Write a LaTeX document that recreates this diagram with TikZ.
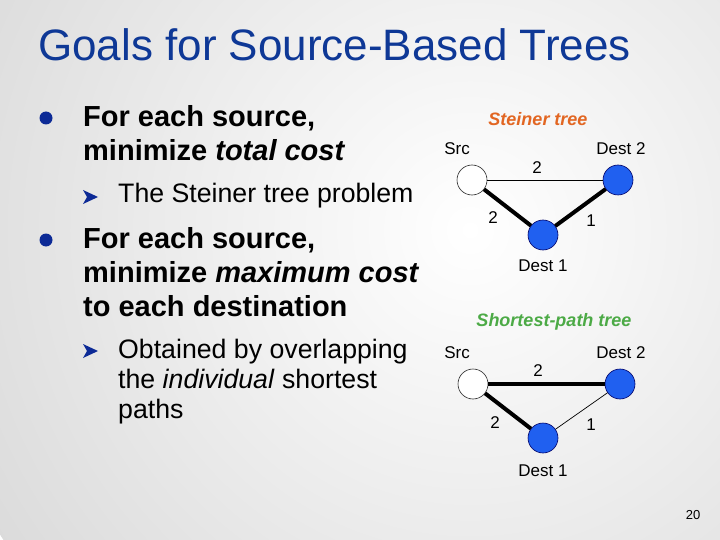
\documentclass[tikz,border=0pt]{standalone}
\usepackage{fontspec}
\setmainfont{Liberation Sans}
\usetikzlibrary{positioning,calc}
\definecolor{titleblue}{RGB}{14,56,150}
\definecolor{dotblue}{RGB}{12,42,150}
\definecolor{nodeblue}{RGB}{32,96,240}
\definecolor{steinerorange}{RGB}{226,102,34}
\definecolor{spgreen}{RGB}{76,170,70}
\tikzstyle{vertex}=[circle, draw=black!85, minimum size=30pt,
                    inner sep=0pt, line width=0.6pt]
\tikzstyle{src}   =[vertex, fill=white]
\tikzstyle{dest}  =[vertex, fill=nodeblue, draw=black!60!blue]
\tikzstyle{edge}  =[line width=0.7pt]
\tikzstyle{tedge} =[line width=4pt]
\tikzstyle{cost}  =[inner sep=0pt, font=\fontsize{17}{17}\selectfont]
\tikzstyle{main}  =[anchor=base west, inner sep=0pt,
                    font=\fontsize{29}{34}\selectfont\bfseries]
\tikzstyle{sub}   =[anchor=base west, inner sep=0pt,
                    font=\fontsize{26.7}{30}\selectfont]
\tikzstyle{bullet}=[circle, fill=dotblue, minimum size=13pt, inner sep=0pt]
\tikzstyle{tree}  =[inner sep=0pt, font=\fontsize{18}{18}\selectfont\bfseries\itshape]
\begin{document}
\begin{tikzpicture}[x=1pt, y=-1pt]
    \useasboundingbox (0,0) rectangle (720,540);
    \begin{scope}
        \clip (0,0) rectangle (720,540);
        \shade[inner color=white, outer color=black!14] (470,230) circle (560);
    \end{scope}
    % title
    \node (T) [anchor=base west, inner sep=0pt, text=titleblue,
               font=\fontsize{44}{44}\selectfont] at (38,61) {Goals for Source-Based Trees};
    % bullets
    \node (b1) [bullet] at (46,118) {};
    \node (b2) [bullet] at (46,240) {};
    \foreach \y in {197,351}
        \fill[dotblue] (83,\y-7) -- (98,\y) -- (83,\y+7) -- (87,\y) -- cycle;
    \node (l1) [main] at (83,127) {For each source,};
    \node (l2) [main] at (83,161) {minimize \textit{total cost}};
    \node (l3) [sub]  at (118,203) {The Steiner tree problem};
    \node (l4) [main] at (83,248) {For each source,};
    \node (l5) [main] at (83,282) {minimize \textit{maximum cost}};
    \node (l6) [main] at (83,316) {to each destination};
    \node (l7) [sub]  at (118,358) {Obtained by overlapping};
    \node (l8) [sub]  at (118,388) {the \textit{individual} shortest};
    \node (l9) [sub]  at (118,418) {paths};
    % Steiner tree
    \begin{scope}
        \node (src1) [src]  at (472,180) {};
        \node (two1) [dest] at (618,180) {};
        \node (one1) [dest] at (543,235) {};
        \node (H1) [tree, text=steinerorange] at (538,119) {Steiner tree};
        \node (ns1) [cost] at (457,149) {Src};
        \node (nt1) [cost] at (621,149) {Dest 2};
        \node (no1) [cost] at (543,266) {Dest 1};
        \node (c11) [cost] at (537,168) {2};
        \node (c12) [cost] at (493,218) {2};
        \node (c13) [cost] at (591,221) {1};
        \draw[edge]  (src1) to (two1);
        \draw[tedge] (src1) to (one1);
        \draw[tedge] (one1) to (two1);
    \end{scope}
    % Shortest-path tree
    \begin{scope}
        \node (src2) [src]  at (473,384) {};
        \node (two2) [dest] at (620,384) {};
        \node (one2) [dest] at (543,438) {};
        \node (H2) [tree, text=spgreen] at (554,322) {Shortest-path tree};
        \node (ns2) [cost] at (457,353) {Src};
        \node (nt2) [cost] at (621,353) {Dest 2};
        \node (no2) [cost] at (543,471) {Dest 1};
        \node (c21) [cost] at (538,371) {2};
        \node (c22) [cost] at (495,423) {2};
        \node (c23) [cost] at (591,425) {1};
        \draw[tedge] (src2) to (two2);
        \draw[tedge] (src2) to (one2);
        \draw[edge]  (one2) to (two2);
    \end{scope}
    \node (pg) [inner sep=0pt, font=\fontsize{13}{13}\selectfont] at (693,515) {20};
\end{tikzpicture}
\end{document}
